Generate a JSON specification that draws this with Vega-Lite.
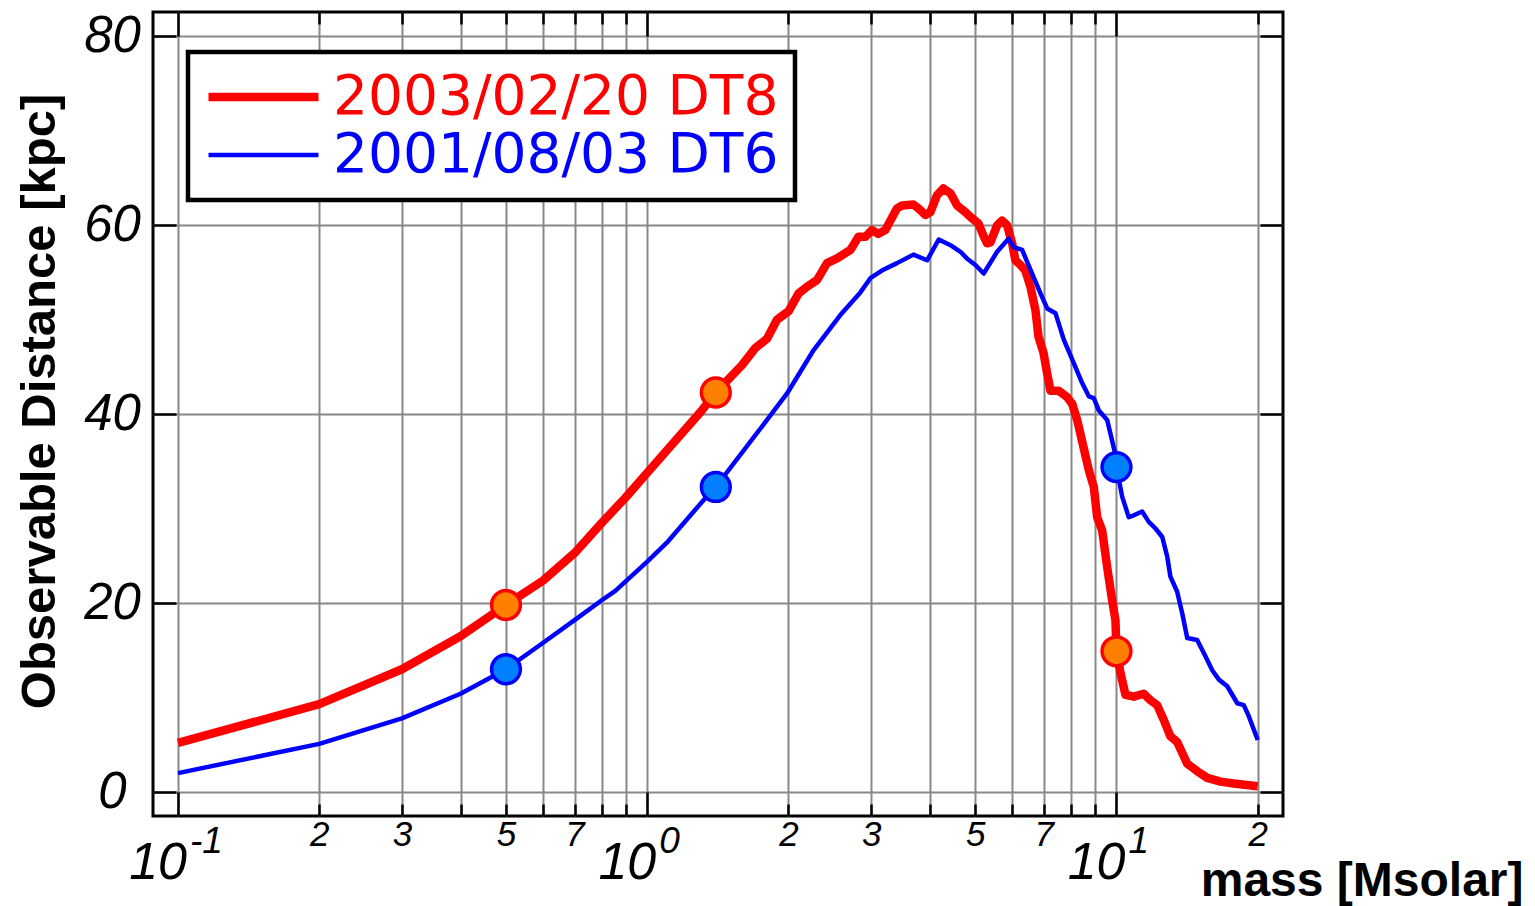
{
  "$schema": "https://vega.github.io/schema/vega-lite/v6.json",
  "width": 1130,
  "height": 804,
  "autosize": {"type": "none"},
  "padding": {"left": 153, "top": 12, "right": 252, "bottom": 90},
  "background": "white",
  "config": {"view": {"stroke": "black", "strokeWidth": 3}, "axis": {"domain": false}, "legend": {"strokeWidth": 4.5}},
  "datasets": {
    "curves": [
      {"series": "2003/02/20 DT8", "mass": 0.1, "dist": 5.2},
      {"series": "2003/02/20 DT8", "mass": 0.2, "dist": 9.3},
      {"series": "2003/02/20 DT8", "mass": 0.3, "dist": 13.0},
      {"series": "2003/02/20 DT8", "mass": 0.4, "dist": 16.5},
      {"series": "2003/02/20 DT8", "mass": 0.5, "dist": 19.8},
      {"series": "2003/02/20 DT8", "mass": 0.6, "dist": 22.4},
      {"series": "2003/02/20 DT8", "mass": 0.7, "dist": 25.3},
      {"series": "2003/02/20 DT8", "mass": 0.8, "dist": 28.5},
      {"series": "2003/02/20 DT8", "mass": 0.9, "dist": 31.2},
      {"series": "2003/02/20 DT8", "mass": 1.0, "dist": 33.8},
      {"series": "2003/02/20 DT8", "mass": 1.297, "dist": 40.2},
      {"series": "2003/02/20 DT8", "mass": 1.4, "dist": 42.3},
      {"series": "2003/02/20 DT8", "mass": 1.592, "dist": 45.2},
      {"series": "2003/02/20 DT8", "mass": 1.699, "dist": 47.0},
      {"series": "2003/02/20 DT8", "mass": 1.8, "dist": 48.0},
      {"series": "2003/02/20 DT8", "mass": 1.89, "dist": 50.0},
      {"series": "2003/02/20 DT8", "mass": 2.0, "dist": 50.9},
      {"series": "2003/02/20 DT8", "mass": 2.102, "dist": 52.8},
      {"series": "2003/02/20 DT8", "mass": 2.19, "dist": 53.5},
      {"series": "2003/02/20 DT8", "mass": 2.3, "dist": 54.2},
      {"series": "2003/02/20 DT8", "mass": 2.416, "dist": 56.0},
      {"series": "2003/02/20 DT8", "mass": 2.538, "dist": 56.5},
      {"series": "2003/02/20 DT8", "mass": 2.71, "dist": 57.4},
      {"series": "2003/02/20 DT8", "mass": 2.82, "dist": 58.8},
      {"series": "2003/02/20 DT8", "mass": 2.918, "dist": 58.8},
      {"series": "2003/02/20 DT8", "mass": 3.014, "dist": 59.5},
      {"series": "2003/02/20 DT8", "mass": 3.108, "dist": 59.1},
      {"series": "2003/02/20 DT8", "mass": 3.218, "dist": 59.5},
      {"series": "2003/02/20 DT8", "mass": 3.407, "dist": 61.8},
      {"series": "2003/02/20 DT8", "mass": 3.492, "dist": 62.1},
      {"series": "2003/02/20 DT8", "mass": 3.692, "dist": 62.2},
      {"series": "2003/02/20 DT8", "mass": 3.783, "dist": 61.8},
      {"series": "2003/02/20 DT8", "mass": 3.915, "dist": 61.1},
      {"series": "2003/02/20 DT8", "mass": 4.012, "dist": 61.4},
      {"series": "2003/02/20 DT8", "mass": 4.147, "dist": 63.2},
      {"series": "2003/02/20 DT8", "mass": 4.277, "dist": 63.9},
      {"series": "2003/02/20 DT8", "mass": 4.428, "dist": 63.4},
      {"series": "2003/02/20 DT8", "mass": 4.575, "dist": 62.1},
      {"series": "2003/02/20 DT8", "mass": 4.764, "dist": 61.4},
      {"series": "2003/02/20 DT8", "mass": 4.883, "dist": 60.9},
      {"series": "2003/02/20 DT8", "mass": 5.079, "dist": 60.2},
      {"series": "2003/02/20 DT8", "mass": 5.205, "dist": 58.9},
      {"series": "2003/02/20 DT8", "mass": 5.301, "dist": 58.1},
      {"series": "2003/02/20 DT8", "mass": 5.387, "dist": 58.2},
      {"series": "2003/02/20 DT8", "mass": 5.567, "dist": 60.0},
      {"series": "2003/02/20 DT8", "mass": 5.705, "dist": 60.5},
      {"series": "2003/02/20 DT8", "mass": 5.848, "dist": 60.0},
      {"series": "2003/02/20 DT8", "mass": 5.993, "dist": 58.1},
      {"series": "2003/02/20 DT8", "mass": 6.09, "dist": 56.3},
      {"series": "2003/02/20 DT8", "mass": 6.242, "dist": 55.8},
      {"series": "2003/02/20 DT8", "mass": 6.397, "dist": 55.2},
      {"series": "2003/02/20 DT8", "mass": 6.556, "dist": 53.5},
      {"series": "2003/02/20 DT8", "mass": 6.72, "dist": 51.0},
      {"series": "2003/02/20 DT8", "mass": 6.82, "dist": 48.2},
      {"series": "2003/02/20 DT8", "mass": 6.99, "dist": 46.5},
      {"series": "2003/02/20 DT8", "mass": 7.117, "dist": 44.3},
      {"series": "2003/02/20 DT8", "mass": 7.234, "dist": 42.5},
      {"series": "2003/02/20 DT8", "mass": 7.523, "dist": 42.5},
      {"series": "2003/02/20 DT8", "mass": 7.852, "dist": 41.8},
      {"series": "2003/02/20 DT8", "mass": 8.046, "dist": 41.1},
      {"series": "2003/02/20 DT8", "mass": 8.246, "dist": 39.4},
      {"series": "2003/02/20 DT8", "mass": 8.506, "dist": 36.5},
      {"series": "2003/02/20 DT8", "mass": 8.73, "dist": 34.1},
      {"series": "2003/02/20 DT8", "mass": 8.947, "dist": 32.3},
      {"series": "2003/02/20 DT8", "mass": 9.096, "dist": 29.1},
      {"series": "2003/02/20 DT8", "mass": 9.322, "dist": 27.7},
      {"series": "2003/02/20 DT8", "mass": 9.554, "dist": 23.8},
      {"series": "2003/02/20 DT8", "mass": 9.79, "dist": 20.3},
      {"series": "2003/02/20 DT8", "mass": 9.95, "dist": 18.2},
      {"series": "2003/02/20 DT8", "mass": 10.0, "dist": 14.9},
      {"series": "2003/02/20 DT8", "mass": 10.2, "dist": 12.6},
      {"series": "2003/02/20 DT8", "mass": 10.45, "dist": 10.3},
      {"series": "2003/02/20 DT8", "mass": 10.89, "dist": 10.1},
      {"series": "2003/02/20 DT8", "mass": 11.43, "dist": 10.4},
      {"series": "2003/02/20 DT8", "mass": 11.82, "dist": 9.7},
      {"series": "2003/02/20 DT8", "mass": 12.21, "dist": 9.2},
      {"series": "2003/02/20 DT8", "mass": 12.62, "dist": 7.6},
      {"series": "2003/02/20 DT8", "mass": 13.03, "dist": 5.9},
      {"series": "2003/02/20 DT8", "mass": 13.47, "dist": 5.3},
      {"series": "2003/02/20 DT8", "mass": 14.15, "dist": 3.0},
      {"series": "2003/02/20 DT8", "mass": 14.86, "dist": 2.2},
      {"series": "2003/02/20 DT8", "mass": 15.61, "dist": 1.5},
      {"series": "2003/02/20 DT8", "mass": 16.66, "dist": 1.1},
      {"series": "2003/02/20 DT8", "mass": 17.79, "dist": 0.9},
      {"series": "2003/02/20 DT8", "mass": 20.0, "dist": 0.6},
      {"series": "2001/08/03 DT6", "mass": 0.1, "dist": 2.0},
      {"series": "2001/08/03 DT6", "mass": 0.2, "dist": 5.1},
      {"series": "2001/08/03 DT6", "mass": 0.3, "dist": 7.8},
      {"series": "2001/08/03 DT6", "mass": 0.4, "dist": 10.4},
      {"series": "2001/08/03 DT6", "mass": 0.5, "dist": 13.0},
      {"series": "2001/08/03 DT6", "mass": 0.6, "dist": 15.8},
      {"series": "2001/08/03 DT6", "mass": 0.7, "dist": 18.2},
      {"series": "2001/08/03 DT6", "mass": 0.8, "dist": 20.3},
      {"series": "2001/08/03 DT6", "mass": 0.855, "dist": 21.3},
      {"series": "2001/08/03 DT6", "mass": 1.0, "dist": 24.4},
      {"series": "2001/08/03 DT6", "mass": 1.101, "dist": 26.4},
      {"series": "2001/08/03 DT6", "mass": 1.318, "dist": 30.9},
      {"series": "2001/08/03 DT6", "mass": 1.4, "dist": 32.3},
      {"series": "2001/08/03 DT6", "mass": 1.8, "dist": 39.4},
      {"series": "2001/08/03 DT6", "mass": 1.986, "dist": 42.2},
      {"series": "2001/08/03 DT6", "mass": 2.263, "dist": 46.8},
      {"series": "2001/08/03 DT6", "mass": 2.579, "dist": 50.5},
      {"series": "2001/08/03 DT6", "mass": 2.846, "dist": 52.9},
      {"series": "2001/08/03 DT6", "mass": 2.989, "dist": 54.4},
      {"series": "2001/08/03 DT6", "mass": 3.186, "dist": 55.3},
      {"series": "2001/08/03 DT6", "mass": 3.407, "dist": 56.0},
      {"series": "2001/08/03 DT6", "mass": 3.692, "dist": 56.9},
      {"series": "2001/08/03 DT6", "mass": 3.949, "dist": 56.3},
      {"series": "2001/08/03 DT6", "mass": 4.18, "dist": 58.5},
      {"series": "2001/08/03 DT6", "mass": 4.428, "dist": 57.9},
      {"series": "2001/08/03 DT6", "mass": 4.651, "dist": 57.2},
      {"series": "2001/08/03 DT6", "mass": 4.8, "dist": 56.5},
      {"series": "2001/08/03 DT6", "mass": 5.005, "dist": 55.8},
      {"series": "2001/08/03 DT6", "mass": 5.212, "dist": 54.9},
      {"series": "2001/08/03 DT6", "mass": 5.567, "dist": 57.2},
      {"series": "2001/08/03 DT6", "mass": 5.893, "dist": 58.6},
      {"series": "2001/08/03 DT6", "mass": 6.04, "dist": 57.7},
      {"series": "2001/08/03 DT6", "mass": 6.295, "dist": 57.4},
      {"series": "2001/08/03 DT6", "mass": 6.556, "dist": 55.3},
      {"series": "2001/08/03 DT6", "mass": 6.887, "dist": 52.8},
      {"series": "2001/08/03 DT6", "mass": 7.117, "dist": 51.2},
      {"series": "2001/08/03 DT6", "mass": 7.413, "dist": 50.7},
      {"series": "2001/08/03 DT6", "mass": 7.721, "dist": 47.9},
      {"series": "2001/08/03 DT6", "mass": 8.11, "dist": 45.4},
      {"series": "2001/08/03 DT6", "mass": 8.45, "dist": 43.3},
      {"series": "2001/08/03 DT6", "mass": 8.73, "dist": 41.9},
      {"series": "2001/08/03 DT6", "mass": 8.947, "dist": 41.7},
      {"series": "2001/08/03 DT6", "mass": 9.17, "dist": 40.4},
      {"series": "2001/08/03 DT6", "mass": 9.554, "dist": 39.4},
      {"series": "2001/08/03 DT6", "mass": 9.95, "dist": 35.7},
      {"series": "2001/08/03 DT6", "mass": 10.0, "dist": 34.4},
      {"series": "2001/08/03 DT6", "mass": 10.28, "dist": 31.3},
      {"series": "2001/08/03 DT6", "mass": 10.62, "dist": 29.1},
      {"series": "2001/08/03 DT6", "mass": 10.89, "dist": 29.3},
      {"series": "2001/08/03 DT6", "mass": 11.34, "dist": 29.7},
      {"series": "2001/08/03 DT6", "mass": 11.72, "dist": 28.6},
      {"series": "2001/08/03 DT6", "mass": 12.11, "dist": 27.9},
      {"series": "2001/08/03 DT6", "mass": 12.52, "dist": 27.0},
      {"series": "2001/08/03 DT6", "mass": 12.83, "dist": 24.9},
      {"series": "2001/08/03 DT6", "mass": 13.03, "dist": 22.8},
      {"series": "2001/08/03 DT6", "mass": 13.47, "dist": 21.2},
      {"series": "2001/08/03 DT6", "mass": 13.81, "dist": 18.9},
      {"series": "2001/08/03 DT6", "mass": 14.15, "dist": 16.3},
      {"series": "2001/08/03 DT6", "mass": 14.86, "dist": 16.1},
      {"series": "2001/08/03 DT6", "mass": 15.36, "dist": 14.7},
      {"series": "2001/08/03 DT6", "mass": 16.0, "dist": 12.9},
      {"series": "2001/08/03 DT6", "mass": 16.53, "dist": 11.9},
      {"series": "2001/08/03 DT6", "mass": 17.22, "dist": 11.2},
      {"series": "2001/08/03 DT6", "mass": 18.09, "dist": 9.4},
      {"series": "2001/08/03 DT6", "mass": 18.68, "dist": 9.2},
      {"series": "2001/08/03 DT6", "mass": 19.15, "dist": 8.0},
      {"series": "2001/08/03 DT6", "mass": 20.0, "dist": 5.5}
    ],
    "markers": [
      {"series": "2003/02/20 DT8", "mass": 0.5, "dist": 19.8},
      {"series": "2003/02/20 DT8", "mass": 1.4, "dist": 42.3},
      {"series": "2003/02/20 DT8", "mass": 10.0, "dist": 14.9},
      {"series": "2001/08/03 DT6", "mass": 0.5, "dist": 13.0},
      {"series": "2001/08/03 DT6", "mass": 1.4, "dist": 32.3},
      {"series": "2001/08/03 DT6", "mass": 10.0, "dist": 34.4}
    ],
    "decades": [
      {"mass": 0.1, "exponent": "-1"},
      {"mass": 1, "exponent": "0"},
      {"mass": 10, "exponent": "1"}
    ]
  },
  "resolve": {"axis": {"x": "independent", "y": "independent"}},
  "layer": [
    {
      "data": {"name": "curves"},
      "mark": {"type": "line", "strokeJoin": "round", "clip": true},
      "encoding": {
        "x": {
          "field": "mass", "type": "quantitative",
          "scale": {"type": "log", "domain": [0.08846, 22.64], "nice": false},
          "axis": {
            "orient": "bottom",
            "values": [0.1, 0.2, 0.3, 0.4, 0.5, 0.6, 0.7, 0.8, 0.9, 1, 2, 3, 4, 5, 6, 7, 8, 9, 10, 20],
            "grid": true, "gridColor": "#888888", "gridWidth": 2,
            "tickColor": "black", "tickWidth": 2.5,
            "tickSize": {"condition": {"test": "indexof([0.1, 1, 10], datum.value) >= 0", "value": -24}, "value": -12},
            "labelExpr": "indexof([0.2, 0.3, 0.5, 0.7, 2, 3, 5, 7, 20], datum.value) >= 0 ? (datum.value < 1 ? format(datum.value * 10, '.0f') : (datum.value >= 10 ? format(datum.value / 10, '.0f') : format(datum.value, '.0f'))) : ''",
            "labelFont": "Liberation Sans", "labelFontStyle": "italic", "labelFontSize": 35, "labelColor": "black",
            "labelPadding": 13, "labelBaseline": "top", "labelAlign": "center",
            "labelOverlap": false, "labelFlush": false, "labelBound": false,
            "domain": false,
            "title": "mass [Msolar]", "titleFont": "Liberation Sans", "titleFontWeight": "bold", "titleFontSize": 48, "titleColor": "black",
            "titleAlign": "right", "titleBaseline": "alphabetic", "titleX": 1370, "titleY": 79
          }
        },
        "y": {
          "field": "dist", "type": "quantitative",
          "scale": {"domain": [-2.54, 82.59], "nice": false, "zero": false},
          "axis": {
            "orient": "left",
            "values": [0, 20, 40, 60, 80],
            "grid": true, "gridColor": "#888888", "gridWidth": 2,
            "tickColor": "black", "tickWidth": 2.5, "tickSize": -23,
            "labelFont": "Liberation Sans", "labelFontStyle": "italic", "labelFontSize": 51, "labelColor": "black",
            "labelPadding": 64, "labelAlign": "center", "labelBaseline": "middle",
            "labelOverlap": false, "labelFlush": false, "labelBound": false,
            "domain": false,
            "title": "Observable Distance [kpc]", "titleFont": "Liberation Sans", "titleFontWeight": "bold", "titleFontSize": 49, "titleColor": "black",
            "titleAngle": -90, "titleAlign": "center", "titleBaseline": "alphabetic", "titleX": -99, "titleY": 389
          }
        },
        "color": {
          "field": "series", "type": "nominal",
          "scale": {"domain": ["2003/02/20 DT8", "2001/08/03 DT6"], "range": ["#ff0000", "#0000ff"]},
          "legend": {
            "title": null, "orient": "none", "legendX": 35, "legendY": 40,
            "symbolType": "stroke", "symbolSize": 12100,
            "labelFont": "DejaVu Sans", "labelFontSize": 55, "labelOffset": 10, "labelLimit": 2000,
            "labelColor": {"expr": "datum.label === '2003/02/20 DT8' ? '#ff0000' : '#0000ff'"},
            "clipHeight": 58, "rowPadding": 0, "padding": 16,
            "strokeColor": "black", "fillColor": "white"
          }
        },
        "strokeWidth": {
          "field": "series", "type": "nominal",
          "scale": {"domain": ["2003/02/20 DT8", "2001/08/03 DT6"], "range": [8.5, 4.5]}
        }
      }
    },
    {
      "data": {"name": "markers"},
      "mark": {"type": "point", "shape": "circle", "filled": true, "size": 830, "strokeWidth": 3.5, "opacity": 1},
      "encoding": {
        "x": {
          "field": "mass", "type": "quantitative",
          "scale": {"type": "log", "domain": [0.08846, 22.64], "nice": false},
          "axis": {
            "orient": "top",
            "values": [0.1, 0.2, 0.3, 0.4, 0.5, 0.6, 0.7, 0.8, 0.9, 1, 2, 3, 4, 5, 6, 7, 8, 9, 10, 20],
            "grid": false, "labels": false, "domain": false, "title": null,
            "tickColor": "black", "tickWidth": 2.5,
            "tickSize": {"condition": {"test": "indexof([0.1, 1, 10], datum.value) >= 0", "value": -24}, "value": -12}
          }
        },
        "y": {
          "field": "dist", "type": "quantitative",
          "scale": {"domain": [-2.54, 82.59], "nice": false, "zero": false},
          "axis": {
            "orient": "right", "values": [0, 20, 40, 60, 80],
            "grid": false, "labels": false, "domain": false, "title": null,
            "tickColor": "black", "tickWidth": 2.5, "tickSize": -23
          }
        },
        "fill": {
          "field": "series", "type": "nominal",
          "scale": {"domain": ["2003/02/20 DT8", "2001/08/03 DT6"], "range": ["#ff8000", "#0080ff"]},
          "legend": null
        },
        "stroke": {
          "field": "series", "type": "nominal",
          "scale": {"domain": ["2003/02/20 DT8", "2001/08/03 DT6"], "range": ["#ff0000", "#0000ff"]},
          "legend": null
        }
      }
    },
    {
      "data": {"name": "decades"},
      "mark": {"type": "text", "text": "10", "font": "Liberation Sans", "fontStyle": "italic", "fontSize": 52, "align": "right", "baseline": "alphabetic", "dx": 9, "color": "black"},
      "encoding": {
        "x": {"field": "mass", "type": "quantitative", "scale": {"type": "log", "domain": [0.08846, 22.64], "nice": false}, "axis": null},
        "y": {"datum": -9.26, "type": "quantitative", "scale": {"domain": [-2.54, 82.59], "nice": false, "zero": false}, "axis": null}
      }
    },
    {
      "data": {"name": "decades"},
      "mark": {"type": "text", "font": "Liberation Sans", "fontStyle": "italic", "fontSize": 37, "align": "left", "baseline": "alphabetic", "dx": 12, "color": "black"},
      "encoding": {
        "x": {"field": "mass", "type": "quantitative", "scale": {"type": "log", "domain": [0.08846, 22.64], "nice": false}, "axis": null},
        "y": {"datum": -6.45, "type": "quantitative", "scale": {"domain": [-2.54, 82.59], "nice": false, "zero": false}, "axis": null},
        "text": {"field": "exponent", "type": "nominal"}
      }
    }
  ]
}
